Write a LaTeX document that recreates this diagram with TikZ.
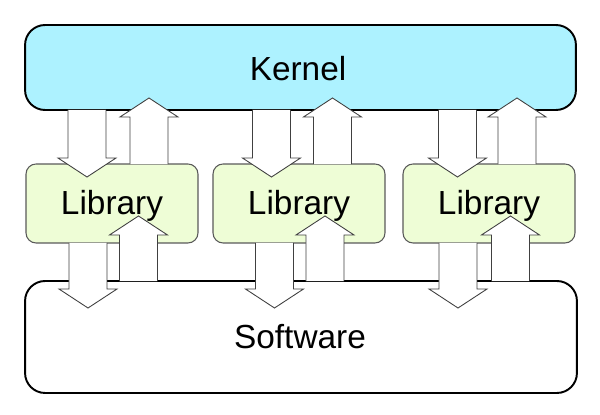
\documentclass[tikz,border=0pt]{standalone}
\usepackage{fontspec}
\setmainfont{Liberation Sans}
\usetikzlibrary{calc}
\definecolor{kernelcyan}{RGB}{173,242,255}
\definecolor{libgreen}{RGB}{238,253,214}
\def\arrdown(#1)(#2)(#3)(#4){\draw[blockarrow] ($(#1,0 |- #2.south)+(-19,0)$) -- ($(#1,0 |- #3.north)+(-19,#4-19)$) -- ($(#1,0 |- #3.north)+(-29,#4-19)$) -- ($(#1,0 |- #3.north)+(0,#4)$) -- ($(#1,0 |- #3.north)+(29,#4-19)$) -- ($(#1,0 |- #3.north)+(19,#4-19)$) -- ($(#1,0 |- #2.south)+(19,0)$);}
\def\arrup(#1)(#2)(#3)(#4){\draw[blockarrow] ($(#1,0 |- #2.north)+(-19,0)$) -- ($(#1,0 |- #3.south)+(-19,19-#4)$) -- ($(#1,0 |- #3.south)+(-29,19-#4)$) -- ($(#1,0 |- #3.south)+(0,-#4)$) -- ($(#1,0 |- #3.south)+(29,19-#4)$) -- ($(#1,0 |- #3.south)+(19,19-#4)$) -- ($(#1,0 |- #2.north)+(19,0)$);}
\tikzset{
	bigbox/.style={draw=black, line width=1.1pt, rounded corners=0.4cm, inner sep=0pt, outer sep=0pt, minimum width=11.02cm},
	libbox/.style={draw=black!65, line width=0.6pt, fill=libgreen, rounded corners=0.2cm, inner sep=0pt, outer sep=0pt, minimum width=3.44cm, minimum height=1.58cm},
	blockarrow/.style={draw=black!75, line width=0.5pt, fill=white, line join=miter},
	boxtext/.style={font=\fontsize{19}{23}\selectfont, inner sep=0pt, anchor=base}
}

\begin{document}
\begin{tikzpicture}[x=0.02cm, y=-0.02cm]
	%%%%% BOXES %%%%%
	\useasboundingbox (0,0) rectangle (600,415);
	
	\node[bigbox, fill=kernelcyan, minimum height=1.7cm] (kernel) at (300.5,67.5) {};
	
	\node[libbox] (lib1) at (112,203.5) {};
	\node[libbox] (lib2) at (299,203.5) {};
	\node[libbox] (lib3) at (489,203.5) {};
	
	\node[bigbox, fill=white, minimum width=11.04cm, minimum height=2.24cm] (soft) at (301,337) {};
	
	%%%%% ARROWS %%%%%
	\arrdown(87)(kernel)(lib1)(13)
	\arrup(149)(lib1)(kernel)(12)
	\arrdown(88)(lib1)(soft)(27)
	\arrup(138.5)(soft)(lib1)(27)
	
	\arrdown(271.5)(kernel)(lib2)(13)
	\arrup(332.5)(lib2)(kernel)(12)
	\arrdown(274.5)(lib2)(soft)(27)
	\arrup(325)(soft)(lib2)(27)
	
	\arrdown(457.5)(kernel)(lib3)(13)
	\arrup(517)(lib3)(kernel)(12)
	\arrdown(458)(lib3)(soft)(27)
	\arrup(510.5)(soft)(lib3)(27)
	
	%%%%% TEXT %%%%%
	\node[boxtext] (kerneltext) at (298,81) {Kernel};
	\node[boxtext] (lib1text) at (112,215) {Library};
	\node[boxtext] (lib2text) at (299,215) {Library};
	\node[boxtext] (lib3text) at (489,215) {Library};
	\node[boxtext] (softtext) at (300,349) {Software};
\end{tikzpicture}
\end{document}
